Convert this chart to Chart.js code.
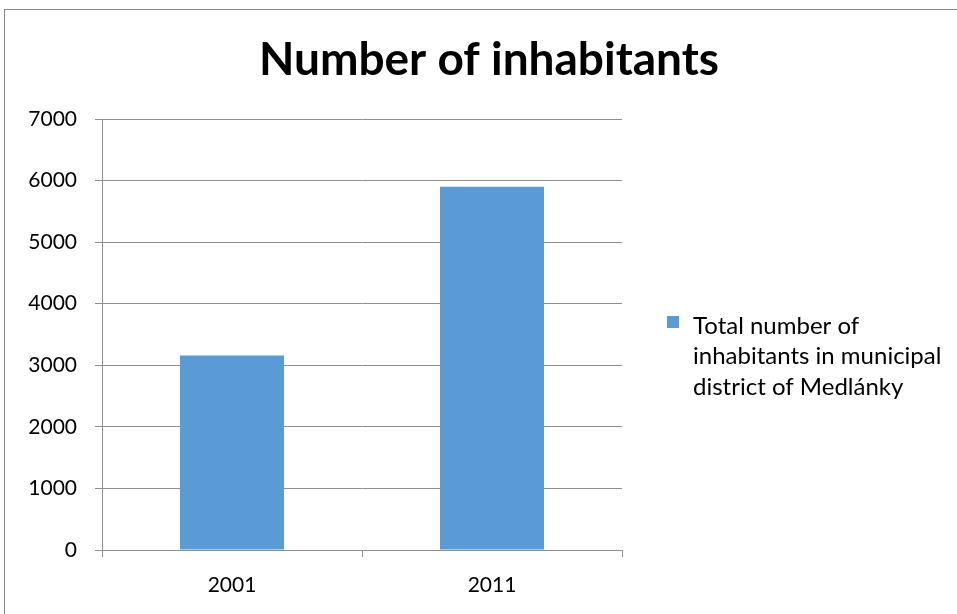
<!DOCTYPE html>
<html>
<head>
<meta charset="utf-8">
<script src="https://cdn.jsdelivr.net/npm/chart.js@4/dist/chart.umd.min.js"></script>
<style>
  html, body { margin: 0; padding: 0; background: #fff; }
  #wrap { width: 957px; height: 614px; }
</style>
</head>
<body>
<div id="wrap"><canvas id="chart" width="957" height="614"></canvas></div>
<script>
const chartTitle = "Number of inhabitants";
const years = ["2001", "2011"];
const inhabitants = [3160, 5900];
const seriesLines = ["Total number of", "inhabitants in municipal", "district of Medlánky"];
const yTicks = [0, 1000, 2000, 3000, 4000, 5000, 6000, 7000];

const font = "Lato, 'Open Sans', sans-serif";
const barColor = "#5B9BD5";
const gridColor = "#8E8E8E";
const textColor = "#000000";

// title, legend and frame drawn by hand so the title can center on the whole chart
const decorations = {
  id: "decorations",
  afterDraw(chart) {
    const ctx = chart.ctx;
    ctx.save();
    ctx.strokeStyle = "#868686";
    ctx.lineWidth = 1;
    ctx.strokeRect(4.5, 9.5, 2000, 2000);

    ctx.fillStyle = textColor;
    ctx.font = "bold 46px " + font;
    ctx.textAlign = "center";
    ctx.textBaseline = "alphabetic";
    ctx.fillText(chartTitle, 489, 75);

    const ds = chart.data.datasets[0];
    ctx.fillStyle = ds.backgroundColor;
    ctx.fillRect(667, 316, 12, 12);
    ctx.fillStyle = textColor;
    ctx.font = "24px " + font;
    ctx.textAlign = "left";
    ctx.textBaseline = "middle";
    seriesLines.forEach((line, i) => {
      ctx.fillText(line, 693, 326 + i * 30.5);
    });
    ctx.restore();
  }
};

new Chart(document.getElementById("chart"), {
  type: "bar",
  data: {
    labels: years,
    datasets: [{
      label: seriesLines.join(" "),
      data: inhabitants,
      backgroundColor: barColor,
      borderWidth: 0,
      barPercentage: 0.4,
      categoryPercentage: 1.0
    }]
  },
  options: {
    responsive: false,
    animation: false,
    layout: { padding: { top: 119, left: 22, right: 335, bottom: 16 } },
    plugins: {
      legend: { display: false },
      title: { display: false },
      tooltip: { enabled: false }
    },
    scales: {
      x: {
        grid: {
          display: true,
          drawOnChartArea: false,
          drawTicks: true,
          tickLength: 7,
          color: gridColor
        },
        border: { color: gridColor, width: 1 },
        ticks: {
          color: textColor,
          font: { family: font, size: 21 },
          padding: 16
        },
        afterFit: (scale) => { scale.height = 48; }
      },
      y: {
        min: 0,
        max: 7000,
        afterBuildTicks: (scale) => { scale.ticks = yTicks.map(v => ({ value: v })); },
        grid: {
          color: gridColor,
          tickLength: 7,
          lineWidth: 1
        },
        border: { color: gridColor, width: 1 },
        ticks: {
          color: textColor,
          font: { family: font, size: 21 },
          padding: 18,
          callback: (val) => String(val)
        },
        afterFit: (scale) => { scale.width = 80; }
      }
    }
  },
  plugins: [decorations]
});
</script>
</body>
</html>
